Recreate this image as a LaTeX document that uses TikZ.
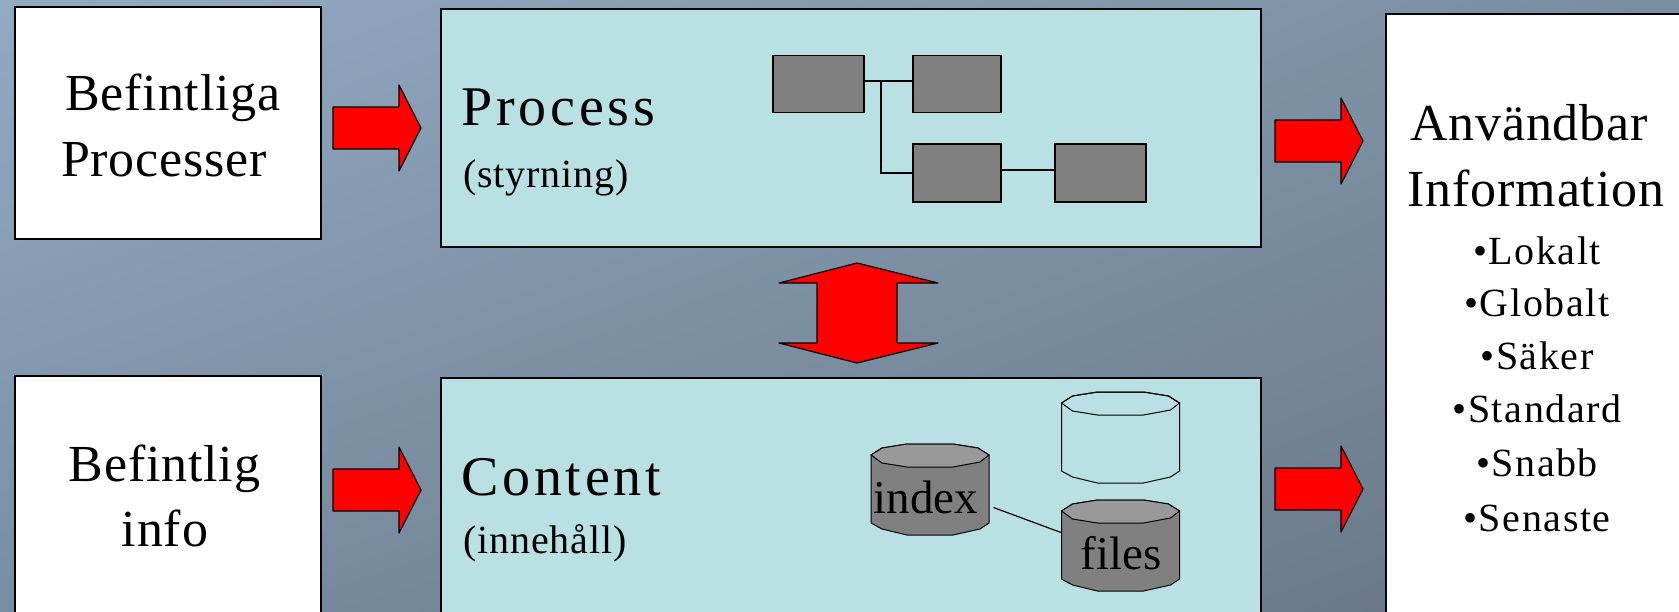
\documentclass[tikz,border=0pt]{standalone}
\usepackage{fontspec}
\setmainfont{Liberation Serif}
\newfontfamily\wide[LetterSpace=1.6]{Liberation Serif}
\newfontfamily\wider[LetterSpace=6.8]{Liberation Serif}
\newfontfamily\narrow[LetterSpace=2.2]{Liberation Serif}
\newfontfamily\items[LetterSpace=4]{Liberation Serif}
\usetikzlibrary{shadings}
\definecolor{ljusbla}{HTML}{B9E0E3}
\definecolor{gra}{HTML}{808080}
\definecolor{gratopp}{HTML}{999999}
\tikzset{
	ruta/.style={draw=black,line width=1.4pt,inner sep=0pt},
	vit/.style={ruta,fill=white},
	turkos/.style={ruta,fill=ljusbla},
	liten/.style={ruta,line width=1.2pt,fill=gra},
	rubrik/.style={anchor=base,inner sep=0pt,font=\fontsize{52}{56}\selectfont\wide},
	titel/.style={anchor=base west,inner sep=0pt,font=\fontsize{56}{60}\selectfont\wider},
	under/.style={anchor=base west,inner sep=0pt,font=\fontsize{40}{44}\selectfont\narrow},
	punkt/.style={anchor=base,inner sep=0pt,font=\fontsize{40}{44}\selectfont\items},
	tontext/.style={anchor=base,inner sep=0pt,font=\fontsize{47}{51}\selectfont},
	tom/.style={inner sep=0pt,minimum width=118pt,minimum height=91pt}
}
% pil at start x, tip y
\def\pil#1#2{
	\draw[fill=red,line width=1.2pt,line join=round] (#1,{#2-21}) -- ++(66,0) -- ++(0,-22) -- ++(22,43) -- ++(-22,43) -- ++(0,-22) -- ++(-66,0) -- cycle;
}
% tonne: name, centre x, top y, side colour, top colour
\def\tonne#1#2#3#4#5{
	\begin{scope}[shift={(#2,#3)},line width=1pt]
	\draw[#4] (-59,11) -- (-48,4) -- (-23,0) -- (23,0) -- (48,4) -- (59,11) -- (59,79) -- (50,85) -- (23,91) -- (-23,91) -- (-48,85) -- (-59,79) -- cycle;
	\draw[#5] (-59,11) -- (-48,4) -- (-23,0) -- (23,0) -- (48,4) -- (59,11) -- (50,18) -- (23,23) -- (-23,23) -- (-48,19) -- cycle;
	\node[tom] (#1) at (0,45.5) {};
	\end{scope}
}

\begin{document}
\begin{tikzpicture}[x=1pt,y=-1pt]
\clip (0,0) rectangle (1679,611);
\shade[upper left={rgb,255:red,146;green,170;blue,195},upper right={rgb,255:red,122;green,142;blue,162},lower left={rgb,255:red,122;green,142;blue,162},lower right={rgb,255:red,104;green,118;blue,133}] (0,0) rectangle (1679,611);

% boxes
\node[vit,minimum width=306pt,minimum height=232pt] (befproc) at (168,123) {};
\node[vit,minimum width=306pt,minimum height=300pt] (befinfo) at (168,526) {};
\node[turkos,minimum width=820pt,minimum height=238pt] (process) at (851,128) {};
\node[turkos,minimum width=820pt,minimum height=300pt] (content) at (851,528) {};
\node[vit,minimum width=340pt,minimum height=640pt] (info) at (1556,334) {};

% arrows
\pil{333}{128}
\pil{333}{490}
\pil{1275}{141}
\pil{1275}{489}
\draw[fill=red,line width=1.2pt,line join=round] (857,263) -- (938,283) -- (897,283) -- (897,343) -- (938,343) -- (857,363) -- (779,343) -- (817,343) -- (817,283) -- (779,283) -- cycle;

% flow
\node[liten,minimum width=91pt,minimum height=57pt] (p1) at (818.5,84) {};
\node[liten,minimum width=88pt,minimum height=57pt] (p2) at (957,84) {};
\node[liten,minimum width=88pt,minimum height=58pt] (p3) at (957,173) {};
\node[liten,minimum width=91pt,minimum height=58pt] (p4) at (1100.5,173) {};
\coordinate (j1) at (881,81);
\coordinate (j2) at (881,173);
\draw[line width=1.2pt] (p1.east |- j1) -- (p2.west |- j1);
\draw[line width=1.2pt] (j1) -- (j2) -- (p3.west |- j2);
\draw[line width=1.2pt] ([yshift=3]p3.east) -- ([yshift=3]p4.west);

% drums
\tonne{tom}{1120.5}{392}{fill=none}{fill=none}
\tonne{idx}{930}{444}{fill=gra}{fill=gratopp}
\tonne{fil}{1120.5}{500}{fill=gra}{fill=gratopp}
\draw[line width=1.2pt] ([shift={(4,18)}]idx.east) -- ([shift={(0,-13)}]fil.west);
\node[tontext] (idxtext) at (926,513) {index};
\node[tontext] (filtext) at (1121,569.5) {files};

% text
\node[rubrik] (t1) at (173,110.5) {Befintliga};
\node[rubrik] (t2) at (164,176.5) {Processer};
\node[rubrik] (t3) at (164.5,481) {Befintlig};
\node[rubrik] (t4) at (165,546) {info};
\node[titel] (t5) at (461,125) {Process};
\node[under] (t6) at (463,187) {(styrning)};
\node[titel] (t7) at (461,495) {Content};
\node[under] (t8) at (463,553) {(innehåll)};
\node[rubrik] (t9) at (1529,140) {Användbar};
\node[rubrik] (t10) at (1536,206) {Information};
\foreach \namn/\txt/\yy in {a/Lokalt/264,b/Globalt/316,c/Säker/369,d/Standard/422.5,e/Snabb/476,f/Senaste/531}{
	\node[punkt] (\namn) at (1537,\yy) {•\txt};
}
\end{tikzpicture}
\end{document}
